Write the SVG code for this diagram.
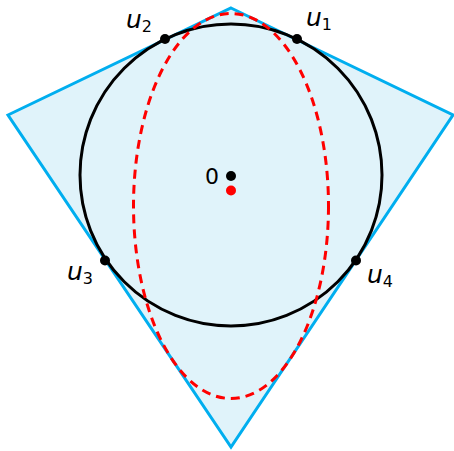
<svg xmlns="http://www.w3.org/2000/svg" width="454" height="451" viewBox="0 0 454 451">
<style>
.kite{fill:#E0F3FA;stroke:#00AEEF;stroke-width:3;stroke-linejoin:miter}
.circ{fill:none;stroke:#000;stroke-width:3}
.ell{fill:none;stroke:#FF0000;stroke-width:3;stroke-dasharray:9 6}
.dot{fill:#000}
.rdot{fill:#FF0000}
.lab{font-family:"DejaVu Sans",sans-serif;font-size:25px;font-style:italic;fill:#000}
.sub{font-style:normal;font-size:16px}
.zero{font-family:"DejaVu Sans",sans-serif;font-size:22px;fill:#000}
</style>
<g id="kite"><polygon class="kite" points="231,8 453,115 231,447 8,115"/></g>
<g id="circle"><circle class="circ" cx="231" cy="175" r="151"/></g>
<g id="ellipse"><ellipse class="ell" cx="231" cy="206" rx="97.5" ry="192.5"/></g>
<g id="origin"><circle class="dot" cx="231" cy="176" r="5"/><text class="zero" x="205" y="184">0</text></g>
<g id="center"><circle class="rdot" cx="231" cy="190.5" r="5"/></g>
<g id="u1"><circle class="dot" cx="297" cy="39" r="5"/><text class="lab" x="306" y="26">u<tspan class="sub" dy="4">1</tspan></text></g>
<g id="u2"><circle class="dot" cx="165" cy="39" r="5"/><text class="lab" x="126" y="28">u<tspan class="sub" dy="4">2</tspan></text></g>
<g id="u3"><circle class="dot" cx="105" cy="260.5" r="5"/><text class="lab" x="67" y="280">u<tspan class="sub" dy="4">3</tspan></text></g>
<g id="u4"><circle class="dot" cx="356" cy="260.5" r="5"/><text class="lab" x="367" y="283">u<tspan class="sub" dy="4">4</tspan></text></g>
</svg>
